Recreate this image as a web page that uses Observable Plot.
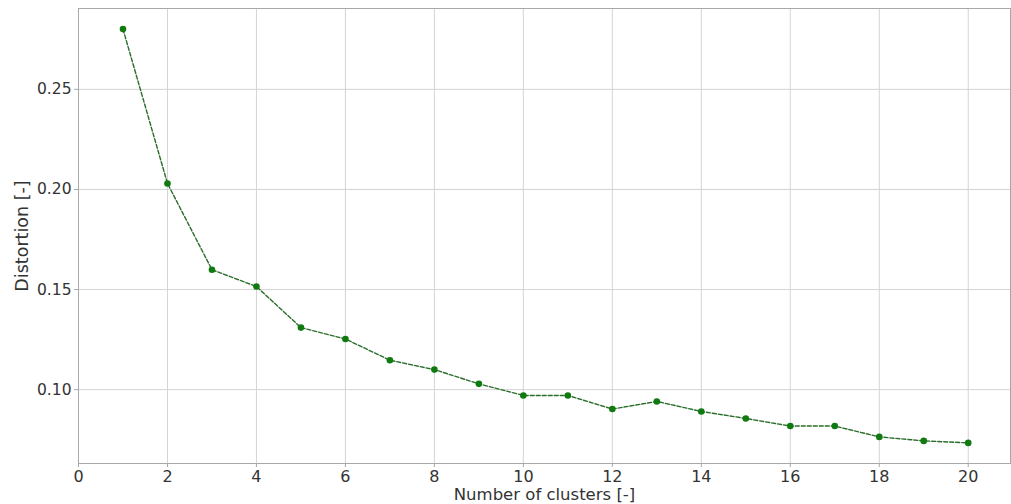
<!DOCTYPE html>
<html>
<head>
<meta charset="utf-8">
<script src="https://cdn.jsdelivr.net/npm/d3@7"></script>
<script src="https://cdn.jsdelivr.net/npm/@observablehq/plot@0.6"></script>
<style>
  html, body { margin: 0; padding: 0; background: #fff; }
  #chart svg { display: block; }
</style>
</head>
<body>
<div id="chart"></div>
<script>
const clusters = [1, 2, 3, 4, 5, 6, 7, 8, 9, 10, 11, 12, 13, 14, 15, 16, 17, 18, 19, 20];
const distortion = [0.2801, 0.2030, 0.1599, 0.1515, 0.1310, 0.1253, 0.1147, 0.1100, 0.1029, 0.0971,
                    0.0971, 0.0903, 0.0941, 0.0891, 0.0856, 0.0818, 0.0818, 0.0764, 0.0744, 0.0734];
const xTicks = [0, 2, 4, 6, 8, 10, 12, 14, 16, 18, 20];
const yTicks = [0.10, 0.15, 0.20, 0.25];
const xLabel = "Number of clusters [-]";
const yLabel = "Distortion [-]";

const data = clusters.map((k, i) => ({k, d: distortion[i]}));

const chart = Plot.plot({
  width: 1011,
  height: 504,
  marginLeft: 78,
  marginRight: 1,
  marginTop: 8,
  marginBottom: 41,
  style: {fontFamily: "DejaVu Sans, sans-serif", fontSize: "15.5px", color: "#333", background: "#fff"},
  x: {domain: [0, 20.95]},
  y: {domain: [0.0631, 0.2904]},
  marks: [
    Plot.ruleX(xTicks, {stroke: "#d4d4d4", strokeWidth: 1}),
    Plot.ruleY(yTicks, {stroke: "#d4d4d4", strokeWidth: 1}),
    Plot.frame({stroke: "#a8a8a8", strokeWidth: 1}),
    Plot.axisX({ticks: xTicks, tickSize: 4, tickPadding: 3, stroke: "#a8a8a8", tickFormat: d => d3.format("d")(d), label: null, fontSize: 16, fill: "#333"}),
    Plot.axisY({ticks: yTicks, tickSize: 4, tickPadding: 3, stroke: "#a8a8a8", tickFormat: d3.format(".2f"), label: null, fontSize: 15.5, fill: "#333"}),
    Plot.line(data, {x: "k", y: "d", stroke: "#2a6e2a", strokeWidth: 1.4, strokeDasharray: "4,2"}),
    Plot.dot(data, {x: "k", y: "d", r: 3.3, fill: "#0f7a0f", stroke: "none"}),
    Plot.text([xLabel], {frameAnchor: "bottom", lineAnchor: "middle", textAnchor: "middle", dy: 31, fontSize: 16.5, fill: "#333"}),
    Plot.text([yLabel], {frameAnchor: "left", textAnchor: "middle", lineAnchor: "middle", dx: -56, rotate: -90, fontSize: 17.5, fill: "#333"})
  ]
});
document.getElementById("chart").appendChild(chart);
</script>
</body>
</html>
